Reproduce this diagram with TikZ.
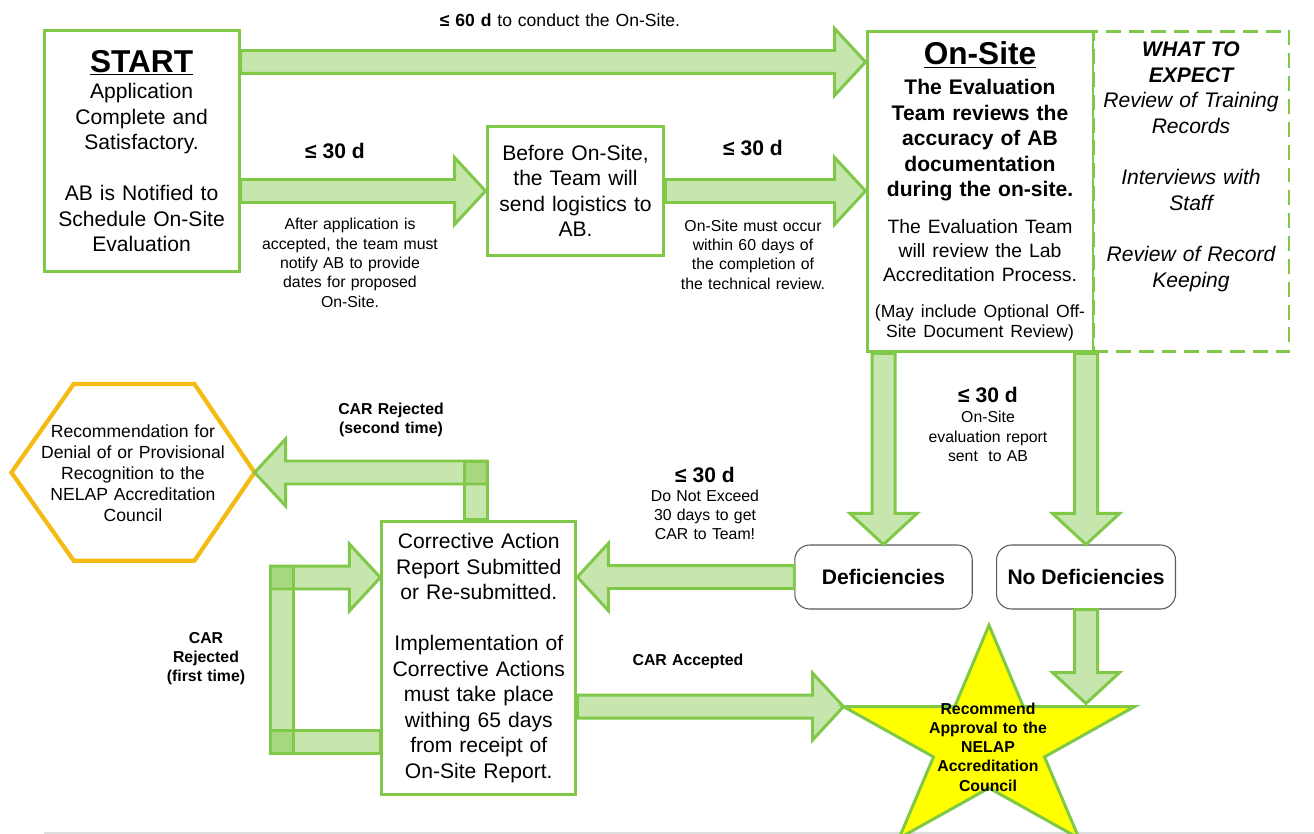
\documentclass[tikz,border=0pt]{standalone}
\usepackage{fontspec}
\setmainfont{Liberation Sans}
\usetikzlibrary{calc}
\setlength{\parskip}{0pt}

\definecolor{leafgreen}{RGB}{128,200,72}
\definecolor{hexorange}{RGB}{245,186,20}
\definecolor{staryellow}{RGB}{255,255,0}
\definecolor{rulegray}{RGB}{222,222,222}

\newcommand\shafthw{0.23cm}
\newcommand\headhw{0.67cm}
\newcommand\headlen{0.62cm}

\newcommand\blockarrow[2]{%
        \coordinate (ba) at ($(#2)!\headlen!(#1)$);
        \draw[flowarrow] ($(#1)!\shafthw!90:(#2)$) -- ($(ba)!\shafthw!-90:(#1)$)
                -- ($(ba)!\headhw!-90:(#1)$) -- (#2) -- ($(ba)!\headhw!90:(#1)$)
                -- ($(ba)!\shafthw!90:(#1)$) -- ($(#1)!\shafthw!-90:(#2)$) -- cycle;}

\newcommand\blockshaft[2]{%
        \draw[flowarrow] ($(#1)!\shafthw!90:(#2)$) -- ($(#2)!\shafthw!-90:(#1)$)
                -- ($(#2)!\shafthw!90:(#1)$) -- ($(#1)!\shafthw!-90:(#2)$) -- cycle;}

\tikzset{
        flowbox/.style={draw=leafgreen, line width=1.7pt, fill=white, inner sep=0pt,
                align=center, font=\fontsize{12}{14.5}\selectfont},
        expectbox/.style={draw=leafgreen, line width=1.7pt, dash pattern=on 8.5pt off 4.5pt},
        outcome/.style={draw=black!65, line width=0.6pt, rounded corners=0.3cm, fill=white,
                font=\fontsize{12}{14}\selectfont\bfseries},
        flowarrow/.style={draw=leafgreen, fill=leafgreen, fill opacity=0.44, line width=1.7pt,
                line join=miter},
        note/.style={inner sep=0pt, align=center, text width=4cm, font=\fontsize{9}{11}\selectfont},
        days/.style={inner sep=0pt, font=\fontsize{12}{14}\selectfont\bfseries},
        tag/.style={inner sep=0pt, align=center, text width=3cm, font=\fontsize{9}{11}\selectfont\bfseries},
        hexline/.style={draw=hexorange, line width=2.4pt, fill=white, line join=miter},
        starline/.style={draw=leafgreen, line width=1.7pt, fill=staryellow, line join=miter}
}

\begin{document}
\begin{tikzpicture}[x=0.02cm,y=-0.02cm]
        \clip (0,0) rectangle (1314,834);
        \fill[white] (0,0) rectangle (1314,834);

        \draw[rulegray, line width=1.2pt] (44,833) -- (1314,833);

        \node[flowbox, text width=3.7cm, minimum width=3.9cm, minimum height=4.84cm] (start) at (141.6,151)
                {{\fontsize{18}{20}\selectfont\bfseries\underline{START}\par}\vspace{0.8pt}
                Application\\ Complete and\\ Satisfactory.\\[14.5pt] AB is Notified to\\ Schedule On-Site\\ Evaluation};
        \node[flowbox, text width=3.4cm, minimum width=3.54cm, minimum height=2.6cm] (before) at (575.5,191)
                {Before On-Site,\\ the Team will\\ send logistics to\\ AB.};

        \node[expectbox, minimum width=3.92cm, minimum height=6.42cm] (expect) at (1191,191.5) {};
        \node[inner sep=0pt, align=center, text width=3.8cm, anchor=north,
                font=\fontsize{12}{14.6}\selectfont\itshape] (expecttext) at (1191,41.5)
                {\textbf{WHAT TO}\\ \textbf{EXPECT}\\ Review of Training\\ Records\\[14.6pt]
                Interviews with\\ Staff\\[14.6pt] Review of Record\\ Keeping};

        \node[flowbox, text width=4.3cm, minimum width=4.52cm, minimum height=6.42cm] (onsite) at (980,191.5)
                {{\fontsize{18}{20}\selectfont\bfseries\underline{On-Site}\par}\vspace{2.5pt}
                {\bfseries The Evaluation\\ Team reviews the\\ accuracy of AB\\ documentation\\ during the on-site.\par}\vspace{7.4pt}
                {\fontsize{11}{13.6}\selectfont The Evaluation Team\\ will review the Lab\\ Accreditation Process.\par}\vspace{9pt}
                {\fontsize{10}{11.4}\selectfont (May include Optional Off-\\ Site Document Review)\par}};

        \node[outcome, minimum width=3.55cm, minimum height=1.28cm] (defic) at (883.5,577) {Deficiencies};
        \node[outcome, minimum width=3.58cm, minimum height=1.28cm] (nodef) at (1086,577) {No Deficiencies};

        \node[flowbox, text width=3.7cm, minimum width=3.88cm, minimum height=5.48cm] (car) at (478.8,658)
                {Corrective Action\\ Report Submitted\\ or Re-submitted.\\[14.5pt] Implementation of\\
                Corrective Actions\\ must take place\\ withing 65 days\\ from receipt of\\ On-Site Report.};

        \coordinate (hexeast) at (254.6,472.5);
        \draw[hexline] (11.4,472.5) -- (73.7,384) -- (194.4,384) -- (hexeast) -- (194.4,560.7) -- (73.7,560.7) -- cycle;
        \node[inner sep=0pt, align=center, text width=4.3cm, font=\fontsize{10}{12}\selectfont] (denial) at (133,473)
                {Recommendation for\\ Denial of or Provisional\\ Recognition to the\\ NELAP Accreditation\\ Council};

        \coordinate (starwest) at (843.5,706.6);
        \draw[starline] (989,625.2) -- (1023.3,706.6) -- (1134.5,706.6) -- (1044.5,756.9) -- (1079,838.3)
                -- (989,788) -- (899,838.3) -- (933.5,756.9) -- (starwest) -- (954.7,706.6) -- cycle;
        \node[tag] (approval) at (988,747) {Recommend\\ Approval to the\\ NELAP\\ Accreditation\\ Council};

        \node[note, font=\fontsize{10}{12}\selectfont, text width=6cm] (sixty) at (560,20) {\textbf{≤ 60 d} to conduct the On-Site.};
        \node[days] (d1) at (335,150.5) {≤ 30 d};
        \node[note] (n1) at (350,263) {After application is\\ accepted, the team must\\ notify AB to provide\\ dates for proposed\\ On-Site.};
        \node[days] (d2) at (753,148) {≤ 30 d};
        \node[note] (n2) at (753,254.5) {On-Site must occur\\ within 60 days of\\ the completion of\\ the technical review.};
        \node[days] (d3) at (988,395) {≤ 30 d};
        \node[note] (n3) at (988,436.5) {On-Site\\ evaluation report\\ sent\ \ to AB};
        \node[days] (d4) at (705,475) {≤ 30 d};
        \node[note] (n4) at (705,515) {Do Not Exceed\\ 30 days to get\\ CAR to Team!};
        \node[tag] (second) at (391,420) {CAR Rejected\\ (second time)};
        \node[tag] (first) at (206,658.5) {CAR\\ Rejected\\ (first time)};
        \node[tag] (accepted) at (688,661) {CAR Accepted};

        \coordinate (s1) at (start.east |- 0,62);
        \coordinate (o1) at (onsite.west |- 0,62);
        \blockarrow{s1}{o1}
        \coordinate (s2) at (start.east |- before.west);
        \blockarrow{s2}{before.west}
        \coordinate (o2) at (onsite.west |- before.east);
        \blockarrow{before.east}{o2}

        \coordinate (o3) at (onsite.south -| defic.north);
        \blockarrow{o3}{defic.north}
        \coordinate (o4) at (onsite.south -| nodef.north);
        \blockarrow{o4}{nodef.north}

        \coordinate (c1) at (car.east |- defic.west);
        \blockarrow{defic.west}{c1}

        \coordinate (c2) at (car.north -| 475.7,0);
        \coordinate (r1) at (475.7,461.3);
        \blockshaft{c2}{r1}
        \coordinate (r2) at (487.2,472.5);
        \blockarrow{r2}{hexeast}

        \coordinate (c3) at (car.west |- 0,742);
        \coordinate (l1) at (270.5,742);
        \blockshaft{c3}{l1}
        \coordinate (l2) at (282,753.5);
        \coordinate (l3) at (282,566);
        \blockshaft{l2}{l3}
        \coordinate (l4) at (270.5,577.5);
        \coordinate (c4) at (car.west |- l4);
        \blockarrow{l4}{c4}

        \coordinate (c5) at (car.east |- 0,706.6);
        \blockarrow{c5}{starwest}
        \coordinate (startop) at (nodef.south |- 0,703.5);
        \blockarrow{nodef.south}{startop}
\end{tikzpicture}
\end{document}
